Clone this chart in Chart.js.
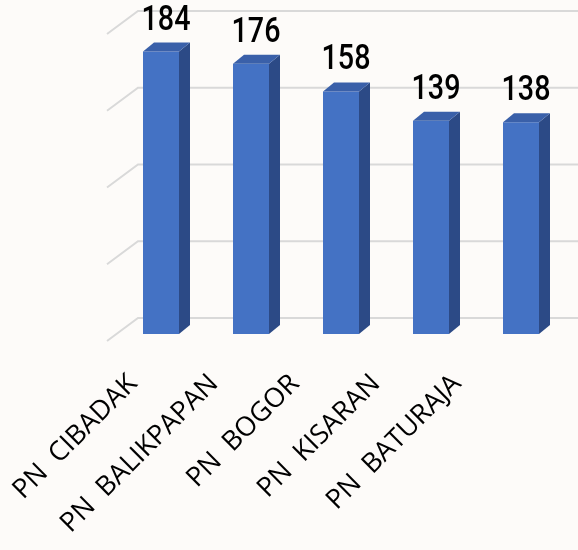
<!DOCTYPE html>
<html>
<head>
<meta charset="utf-8">
<script src="https://cdn.jsdelivr.net/npm/chart.js@4"></script>
<style>
html,body{margin:0;padding:0;background:#fdfbf9;}
canvas{display:block;}
</style>
</head>
<body>
<canvas id="c" width="578" height="550"></canvas>
<script>
const categories = ["PN  CIBADAK", "PN  BALIKPAPAN", "PN  BOGOR", "PN  KISARAN", "PN  BATURAJA"];
const values = [184, 176, 158, 139, 138];
const gridValues = [0, 50, 100, 150, 200];

const FRONT = '#4472C4', SIDE = '#2C4A86', TOP = '#3A60A9', GRID = '#d9d9d9';
const BAR_DX = 11, BAR_DY = 9;       // bar depth
const WALL_DY = 16;                   // back wall offset from bar front plane
const WALL_LEFT = 138, FLOOR_DX = 31, FLOOR_DY = 23;

const threeD = {
  id: 'threeD',
  beforeDatasetsDraw(chart) {
    const ctx = chart.ctx, y = chart.scales.y;
    ctx.save();
    ctx.strokeStyle = GRID;
    ctx.lineWidth = 2;
    gridValues.forEach(v => {
      const py = y.getPixelForValue(v) - WALL_DY;
      ctx.beginPath();
      ctx.moveTo(WALL_LEFT - FLOOR_DX, py + FLOOR_DY);
      ctx.lineTo(WALL_LEFT, py);
      ctx.lineTo(chart.width, py);
      ctx.stroke();
    });
    ctx.restore();
  },
  afterDatasetsDraw(chart) {
    const ctx = chart.ctx;
    const meta = chart.getDatasetMeta(0);
    ctx.save();
    meta.data.forEach((bar, i) => {
      const p = bar.getProps(['x', 'y', 'base', 'width'], true);
      const l = p.x - p.width / 2, r = p.x + p.width / 2;
      ctx.fillStyle = SIDE;
      ctx.beginPath();
      ctx.moveTo(r, p.y); ctx.lineTo(r + BAR_DX, p.y - BAR_DY);
      ctx.lineTo(r + BAR_DX, p.base - BAR_DY); ctx.lineTo(r, p.base);
      ctx.closePath(); ctx.fill();
      ctx.fillStyle = TOP;
      ctx.beginPath();
      ctx.moveTo(l, p.y); ctx.lineTo(l + BAR_DX, p.y - BAR_DY);
      ctx.lineTo(r + BAR_DX, p.y - BAR_DY); ctx.lineTo(r, p.y);
      ctx.closePath(); ctx.fill();
      // value label (slightly condensed)
      ctx.save();
      ctx.translate(p.x + 5, p.y - 22);
      ctx.scale(0.82, 1);
      ctx.fillStyle = '#000';
      ctx.font = '500 35px Roboto, "Liberation Sans", sans-serif';
      ctx.textAlign = 'center';
      ctx.textBaseline = 'alphabetic';
      ctx.fillText(String(values[i]), 0, 0);
      ctx.restore();
    });
    ctx.restore();
  }
};

new Chart(document.getElementById('c'), {
  type: 'bar',
  data: {
    labels: categories,
    datasets: [{ data: values, backgroundColor: FRONT, borderWidth: 0, barPercentage: 0.4, categoryPercentage: 1 }]
  },
  options: {
    responsive: false,
    animation: false,
    events: [],
    layout: { padding: { left: 116, right: 12, top: 27, bottom: 0 } },
    plugins: { legend: { display: false }, tooltip: { enabled: false } },
    scales: {
      x: { display: false, offset: true },
      x2: {
        type: 'linear', position: 'bottom', offset: false, bounds: 'data',
        min: -0.21, max: 5.346,
        afterBuildTicks: s => { s.ticks = categories.map((_, i) => ({ value: i })); },
        afterFit: s => { s.height = 216; s.paddingLeft = 0; s.paddingRight = 0; },
        grid: { display: false, drawTicks: false, offset: false },
        border: { display: false },
        ticks: {
          autoSkip: false, minRotation: 45, maxRotation: 45, padding: 34,
          color: '#000',
          font: { family: '"Open Sans", sans-serif', size: 27 },
          callback: v => categories[v]
        }
      },
      y: {
        display: false, min: 0, max: 200,
        afterFit: s => { s.width = 0; }
      }
    }
  },
  plugins: [threeD]
});
</script>
</body>
</html>
